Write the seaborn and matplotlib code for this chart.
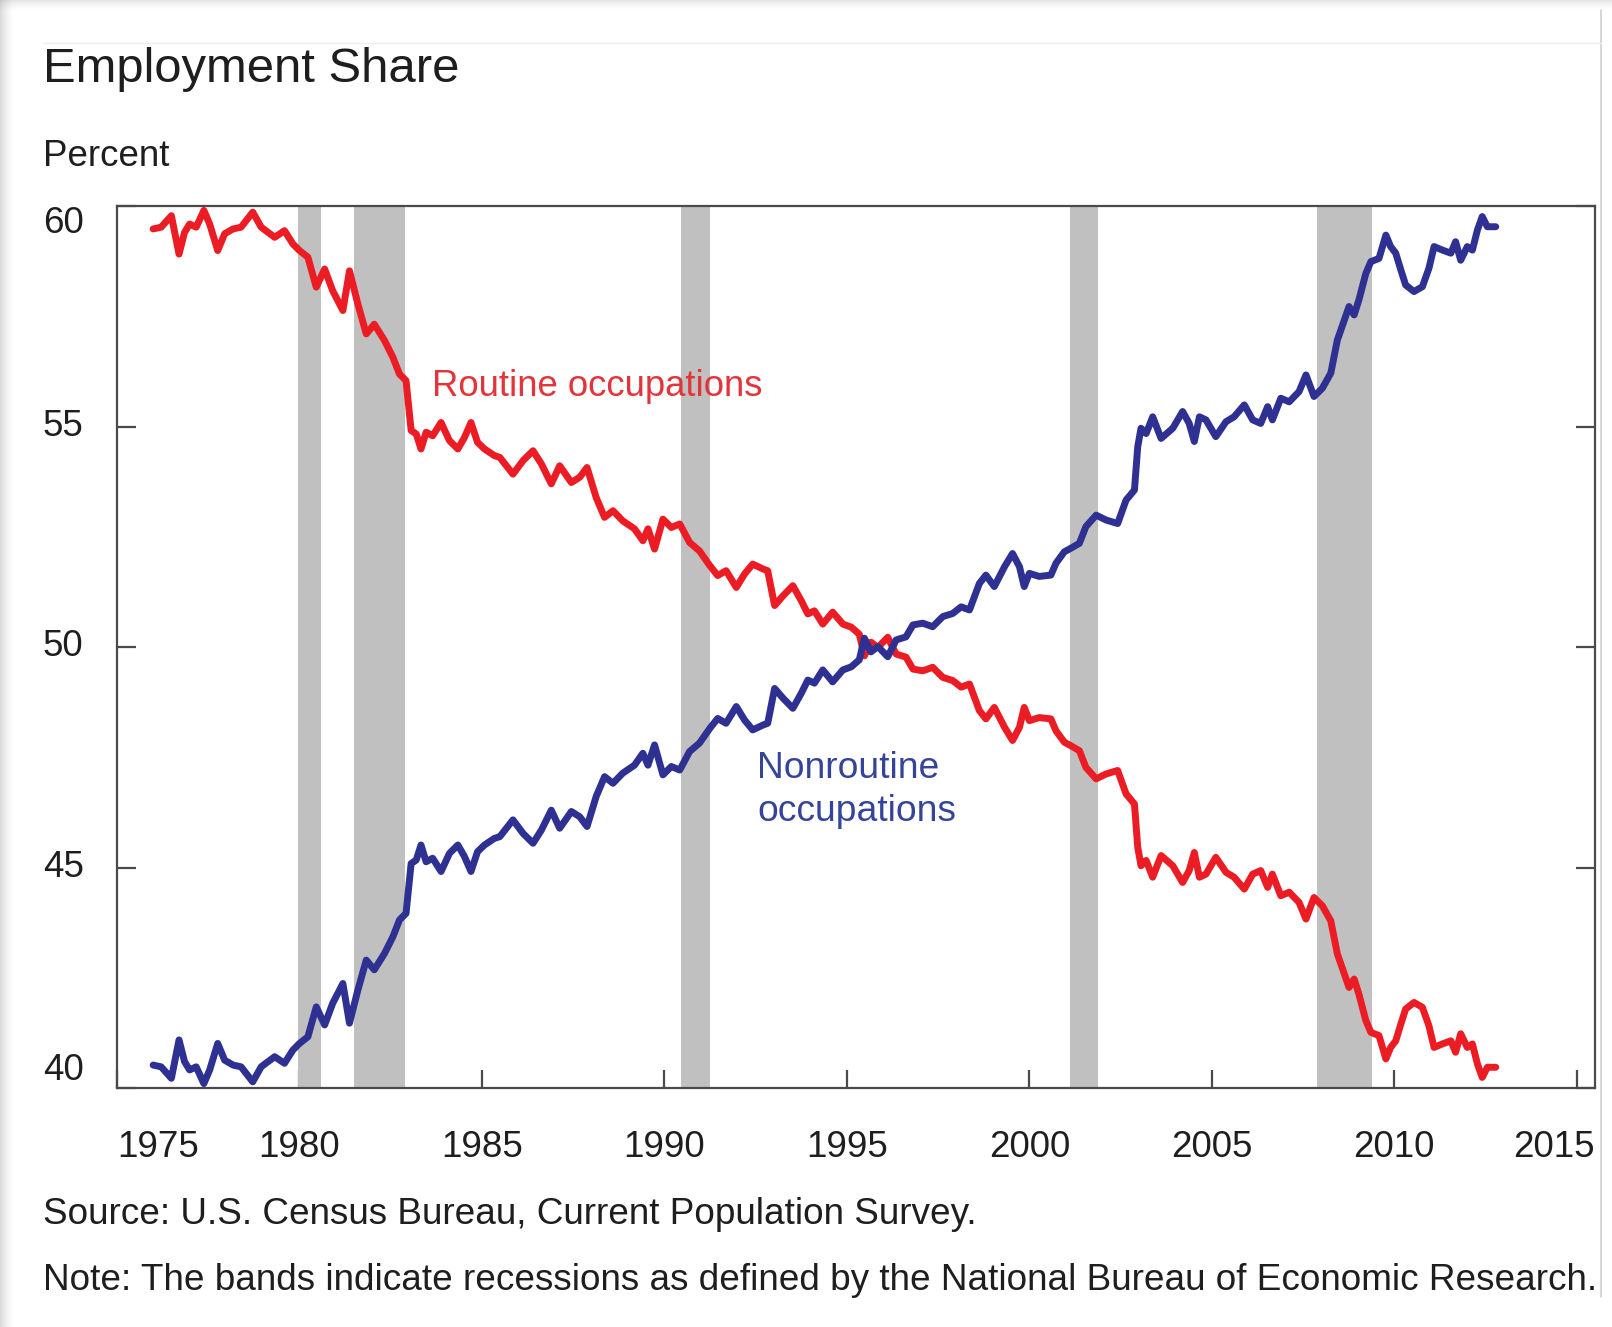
import matplotlib
matplotlib.use("Agg")
import matplotlib.pyplot as plt
from matplotlib.patches import Rectangle
from matplotlib.lines import Line2D
from matplotlib.transforms import ScaledTranslation
import pandas as pd
import seaborn as sns

# ---------------------------------------------------------------------------
# Data: employment share by occupation type (percent), CPS
# ---------------------------------------------------------------------------
years = [
    1975.99, 1976.21, 1976.49, 1976.70, 1976.85, 1976.99, 1977.17, 1977.38, 1977.54, 1977.76,
    1977.95, 1978.18, 1978.40, 1978.72, 1978.95, 1979.32, 1979.59, 1979.82, 1980.00, 1980.23,
    1980.46, 1980.69, 1980.91, 1981.19, 1981.37, 1981.60, 1981.83, 1982.05, 1982.33, 1982.56,
    1982.74, 1982.92, 1983.06, 1983.20, 1983.33, 1983.47, 1983.65, 1983.88, 1984.11, 1984.34,
    1984.52, 1984.70, 1984.88, 1985.07, 1985.34,
    1985.49, 1985.85, 1986.13, 1986.40, 1986.63, 1986.90, 1987.13, 1987.45, 1987.68, 1987.88,
    1988.13, 1988.36, 1988.59, 1988.86, 1989.18, 1989.41, 1989.55, 1989.73, 1989.96, 1990.19,
    1990.42, 1990.69, 1990.96, 1991.24, 1991.46, 1991.69, 1991.97, 1992.20, 1992.42, 1992.70,
    1992.83, 1993.02, 1993.25, 1993.52, 1993.75, 1993.93, 1994.11, 1994.34, 1994.61, 1994.89,
    1995.12, 1995.34, 1995.48, 1995.66, 1995.85,
    1996.12, 1996.35, 1996.62, 1996.81, 1997.08, 1997.35, 1997.63, 1997.90, 1998.13, 1998.36,
    1998.63, 1998.81, 1999.04, 1999.32, 1999.54, 1999.73, 1999.86, 2000.00, 2000.27, 2000.59,
    2000.73, 2000.96, 2001.14, 2001.37, 2001.55, 2001.83, 2002.10, 2002.42, 2002.65, 2002.88,
    2002.97, 2003.06, 2003.20, 2003.38, 2003.61, 2003.93, 2004.20, 2004.38, 2004.52,
    2004.66, 2004.84, 2005.11, 2005.39, 2005.61, 2005.89, 2006.12, 2006.34, 2006.53, 2006.66,
    2006.89, 2007.12, 2007.39, 2007.58, 2007.80, 2008.03, 2008.26, 2008.44, 2008.63, 2008.76,
    2008.90, 2009.03, 2009.22, 2009.36, 2009.58, 2009.77, 2009.90, 2010.04, 2010.18, 2010.31,
    2010.54, 2010.77, 2010.95, 2011.09, 2011.32, 2011.55, 2011.68, 2011.82, 2012.00, 2012.14,
    2012.28, 2012.41, 2012.55, 2012.78,
]

nonroutine = [
    40.52, 40.48, 40.22, 41.09, 40.60, 40.41, 40.48, 40.10, 40.41, 41.01,
    40.63, 40.52, 40.48, 40.14, 40.48, 40.71, 40.56, 40.86, 41.01, 41.16,
    41.84, 41.43, 41.92, 42.37, 41.47, 42.22, 42.90, 42.68, 43.05, 43.43,
    43.81, 43.96, 45.09, 45.17, 45.51, 45.13, 45.21, 44.91, 45.32, 45.51,
    45.25, 44.91, 45.36, 45.51, 45.66,
    45.70, 46.08, 45.77, 45.55, 45.85, 46.30, 45.89, 46.27, 46.15, 45.93,
    46.61, 47.06, 46.91, 47.14, 47.32, 47.59, 47.32, 47.78, 47.10, 47.29,
    47.21, 47.63, 47.82, 48.15, 48.38, 48.27, 48.65, 48.34, 48.12, 48.23,
    48.27, 49.06, 48.84, 48.61, 48.95, 49.25, 49.18, 49.48, 49.21, 49.48,
    49.55, 49.71, 50.20, 49.89, 50.01,
    49.78, 50.16, 50.23, 50.50, 50.54, 50.46, 50.69, 50.76, 50.91, 50.84,
    51.44, 51.63, 51.37, 51.82, 52.12, 51.82, 51.37, 51.67, 51.60, 51.63,
    51.90, 52.16, 52.24, 52.35, 52.73, 52.99, 52.88, 52.80, 53.33, 53.56,
    54.54, 54.96, 54.84, 55.22, 54.73, 54.96, 55.34, 55.07, 54.66,
    55.22, 55.15, 54.77, 55.11, 55.22, 55.49, 55.15, 55.07, 55.45, 55.15,
    55.64, 55.56, 55.79, 56.17, 55.68, 55.87, 56.21, 56.96, 57.41, 57.72,
    57.53, 57.87, 58.47, 58.74, 58.81, 59.34, 59.08, 58.93, 58.55, 58.21,
    58.06, 58.17, 58.59, 59.08, 59.00, 58.93, 59.19, 58.77, 59.08, 59.00,
    59.46, 59.76, 59.53, 59.53,
]

routine = [
    59.48, 59.52, 59.78, 58.91, 59.40, 59.59, 59.52, 59.90, 59.59, 58.99,
    59.37, 59.48, 59.52, 59.86, 59.52, 59.29, 59.44, 59.14, 58.99, 58.84,
    58.16, 58.57, 58.08, 57.63, 58.53, 57.78, 57.10, 57.32, 56.95, 56.57,
    56.19, 56.04, 54.91, 54.83, 54.49, 54.87, 54.79, 55.09, 54.68, 54.49,
    54.75, 55.09, 54.64, 54.49, 54.34,
    54.30, 53.92, 54.23, 54.45, 54.15, 53.70, 54.11, 53.73, 53.85, 54.07,
    53.39, 52.94, 53.09, 52.86, 52.68, 52.41, 52.68, 52.22, 52.90, 52.71,
    52.79, 52.37, 52.18, 51.85, 51.62, 51.73, 51.35, 51.66, 51.88, 51.77,
    51.73, 50.94, 51.16, 51.39, 51.05, 50.75, 50.82, 50.52, 50.79, 50.52,
    50.45, 50.29, 49.80, 50.11, 49.99,
    50.22, 49.84, 49.77, 49.50, 49.46, 49.54, 49.31, 49.24, 49.09, 49.16,
    48.56, 48.37, 48.63, 48.18, 47.88, 48.18, 48.63, 48.33, 48.40, 48.37,
    48.10, 47.84, 47.76, 47.65, 47.27, 47.01, 47.12, 47.20, 46.67, 46.44,
    45.46, 45.04, 45.16, 44.78, 45.27, 45.04, 44.66, 44.93, 45.34,
    44.78, 44.85, 45.23, 44.89, 44.78, 44.51, 44.85, 44.93, 44.55, 44.85,
    44.36, 44.44, 44.21, 43.83, 44.32, 44.13, 43.79, 43.04, 42.59, 42.28,
    42.47, 42.13, 41.53, 41.26, 41.19, 40.66, 40.92, 41.07, 41.45, 41.79,
    41.94, 41.83, 41.41, 40.92, 41.00, 41.07, 40.81, 41.23, 40.92, 41.00,
    40.54, 40.24, 40.47, 40.47,
]

# NBER recession periods (start, end) in fractional years
recession_start = [1979.97, 1981.49, 1990.46, 2001.11, 2007.89]
recession_end = [1980.60, 1982.88, 1991.24, 2001.89, 2009.40]

x_ticks = [1975, 1980, 1985, 1990, 1995, 2000, 2005, 2010, 2015]
y_ticks = [40, 45, 50, 55, 60]

series_names = ["Routine occupations", "Nonroutine occupations"]

# ---------------------------------------------------------------------------
# Style
# ---------------------------------------------------------------------------
sns.set_theme(style="white")
plt.rcParams["font.family"] = ["Liberation Sans", "DejaVu Sans"]
plt.rcParams["text.color"] = "#1e1e1e"

RED = "#ec1c24"
BLUE = "#2e3192"
BAND = "#c0c0c0"
FRAME = "#4a4a4a"
TEXT = "#1e1e1e"
FS = 26.5

W, H = 1612, 1327
fig = plt.figure(figsize=(W / 100, H / 100), dpi=100)
fig.patch.set_facecolor("white")

# soft card shadow on the left and top edges
for i in range(14):
    a = 0.32 * (1 - i / 14) ** 1.6
    fig.patches.append(Rectangle((i / W, 0), 1 / W, 1, transform=fig.transFigure,
                                 facecolor="#8c8c8c", edgecolor="none", alpha=a, zorder=0))
for i in range(10):
    a = 0.22 * (1 - i / 10) ** 1.6
    fig.patches.append(Rectangle((0, 1 - (i + 1) / H), 1, 1 / H, transform=fig.transFigure,
                                 facecolor="#8c8c8c", edgecolor="none", alpha=a, zorder=0))
fig.add_artist(Line2D([1601 / W, 1601 / W], [1 - 1297 / H, 1 - 10 / H],
                      transform=fig.transFigure, color="#cfcfcf", lw=1.2))
fig.add_artist(Line2D([43 / W, 1601 / W], [1 - 43 / H, 1 - 43 / H],
                      transform=fig.transFigure, color="#efefef", lw=1.0))

ax = fig.add_axes([117 / W, 1 - 1088 / H, (1595 - 117) / W, (1088 - 206) / H])
ax.set_facecolor("white")

# recession bands
for s, e in zip(recession_start, recession_end):
    ax.axvspan(s, e, color=BAND, lw=0, zorder=1)

df = pd.DataFrame({
    "year": years + years,
    "share": routine + nonroutine,
    "series": [series_names[0]] * len(years) + [series_names[1]] * len(years),
})
sns.lineplot(data=df, x="year", y="share", hue="series",
             palette={series_names[0]: RED, series_names[1]: BLUE},
             estimator=None, sort=False, linewidth=5.0, legend=False, ax=ax, zorder=3)

ax.set_xlim(1975, 2015.5)
ax.set_ylim(40, 60)
ax.set_xlabel("")
ax.set_ylabel("")

ax.set_xticks(x_ticks, [str(v) for v in x_ticks])
ax.set_yticks(y_ticks, [str(v) for v in y_ticks])

for sp in ax.spines.values():
    sp.set_visible(True)
    sp.set_color(FRAME)
    sp.set_linewidth(1.6)

ax.tick_params(axis="x", direction="in", length=12.7, width=1.6, color=FRAME,
               bottom=True, top=False, labelsize=FS, labelcolor=TEXT, pad=30)
ax.tick_params(axis="y", direction="in", length=13.7, width=1.6, color=FRAME,
               left=True, right=True, labelsize=FS, labelcolor=TEXT, pad=53.3)

# y tick labels sit flush left; the end labels stay inside the frame
for tick, v in zip(ax.yaxis.get_major_ticks(), y_ticks):
    tick.label1.set_horizontalalignment("left")
    if v == 60:
        tick.label1.set_verticalalignment("top")
    elif v == 40:
        tick.label1.set_verticalalignment("bottom")
    else:
        tick.label1.set_verticalalignment("center")

# x tick labels: first and last kept within the frame width
for tick, v in zip(ax.xaxis.get_major_ticks(), x_ticks):
    if v == 1975:
        tick.label1.set_horizontalalignment("left")
    elif v == 2015:
        tick.label1.set_horizontalalignment("right")
        tick.label1.set_transform(tick.label1.get_transform() +
                                  ScaledTranslation(0.175, 0, fig.dpi_scale_trans))

# series labels
ax.text(1983.62, 55.90, series_names[0], color="#e2353b", fontsize=26.3,
        ha="left", va="center", zorder=4)
ax.text(1992.54, 46.76, "Nonroutine\noccupations", color="#35449b", fontsize=26.8,
        ha="left", va="center", linespacing=1.28, zorder=4)

# titles and notes
fig.text(43 / W, 1 - 70 / H, "Employment Share", fontsize=35.3, color=TEXT,
         ha="left", va="center")
fig.text(43 / W, 1 - 157 / H, "Percent", fontsize=FS, color=TEXT, ha="left", va="center")
fig.text(43 / W, 1 - 1214 / H, "Source: U.S. Census Bureau, Current Population Survey.",
         fontsize=26.6, color=TEXT, ha="left", va="center")
fig.text(43 / W, 1 - 1281 / H,
         "Note: The bands indicate recessions as defined by the National Bureau of Economic Research.",
         fontsize=26.6, color=TEXT, ha="left", va="center")

fig.savefig("out.png", dpi=100, facecolor="white")
